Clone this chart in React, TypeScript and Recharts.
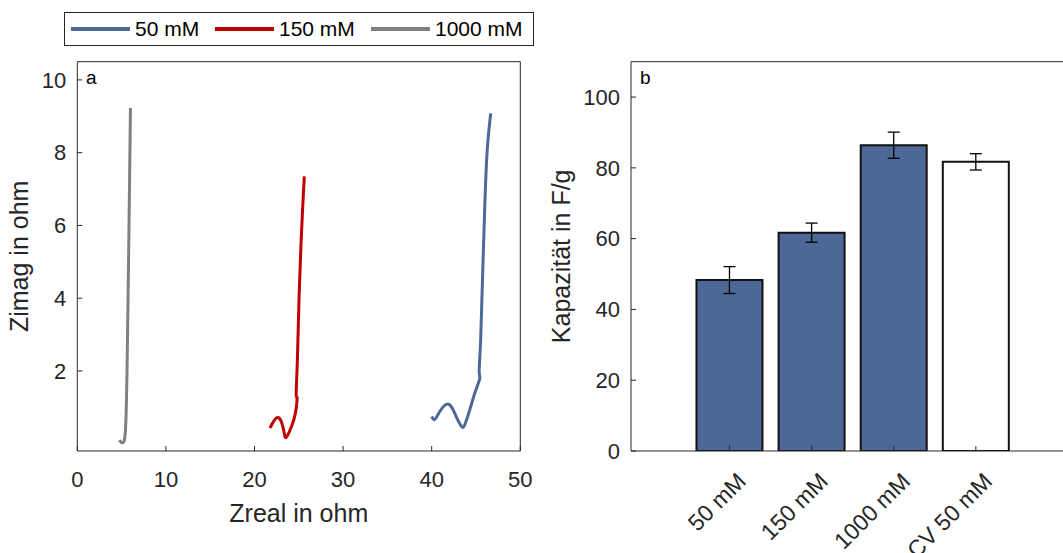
import React from "react";
import {
  LineChart,
  Line,
  BarChart,
  Bar,
  Cell,
  ErrorBar,
  XAxis,
  YAxis,
} from "recharts";

const FONT = "'Liberation Sans', Arial, Helvetica, sans-serif";
const INK = "#262626";
const BLUE = "#4D6797";
const RED = "#C00000";
const GRAY = "#808080";

// Nyquist curves, [Zreal, Zimag] in ohm
const nyquist50 = [
  [40.0, 0.75], [40.3, 0.66], [40.63, 0.77], [41.24, 1.0], [41.8, 1.09],
  [42.26, 1.0], [42.82, 0.72], [43.38, 0.47], [43.76, 0.54], [44.32, 0.95],
  [44.89, 1.41], [45.42, 1.78], [45.36, 1.98], [45.53, 2.88], [45.76, 4.72],
  [46.02, 6.74], [46.28, 8.12], [46.66, 9.08],
];
const nyquist150 = [
  [21.75, 0.43], [22.0, 0.55], [22.31, 0.67], [22.69, 0.72], [23.07, 0.58],
  [23.35, 0.3], [23.56, 0.17], [24.0, 0.37], [24.46, 0.68], [24.72, 1.0],
  [24.8, 1.28], [24.7, 1.35], [24.84, 2.3], [25.04, 4.1], [25.25, 5.5],
  [25.43, 6.45], [25.62, 7.35],
];
const nyquist1000 = [
  [4.75, 0.1], [4.95, 0.04], [5.15, 0.03], [5.33, 0.12], [5.45, 0.45],
  [5.52, 0.9], [5.6, 1.8], [5.7, 3.5], [5.8, 5.3], [5.9, 7.2], [6.0, 9.23],
];

const zrealTicks = [0, 10, 20, 30, 40, 50];
const zimagTicks = [2, 4, 6, 8, 10];

// Specific capacitance per electrolyte
const electrolytes = ["50 mM", "150 mM", "1000 mM", "CV 50 mM"];
const capacity = [48.3, 61.7, 86.4, 81.7];
const capacityErr = [3.8, 2.7, 3.7, 2.3];
const barFills = [BLUE, BLUE, BLUE, "#FFFFFF"];
const capacityTicks = [0, 20, 40, 60, 80, 100];

const legendItems = [
  { name: "50 mM", color: BLUE },
  { name: "150 mM", color: RED },
  { name: "1000 mM", color: GRAY },
];

const toPoints = (pts: number[][]) => pts.map(([zreal, zimag]) => ({ zreal, zimag }));

const barData = electrolytes.map((name, i) => ({
  pos: i + 1,
  name,
  capacity: capacity[i],
  err: capacityErr[i],
}));
const barPositions = barData.map((d) => d.pos);

const tickFont = { fill: INK, fontSize: 22 };

function SlantTick(props: any) {
  const { x, y, payload } = props;
  return (
    <g transform={`translate(${x + 12},${y})`}>
      <text
        transform="rotate(-45)"
        textAnchor="end"
        dy="0.35em"
        fill={INK}
        fontSize={23}
      >
        {electrolytes[payload.value - 1]}
      </text>
    </g>
  );
}

function Legend() {
  // line starts, relative to the box
  const lineX = [6, 150, 306];
  return (
    <div
      style={{
        position: "absolute",
        left: 64,
        top: 12,
        width: 468,
        height: 32,
        border: `1px solid ${INK}`,
        background: "#fff",
      }}
    >
      {legendItems.map((it, i) => (
        <div
          key={it.name}
          style={{
            position: "absolute",
            left: lineX[i],
            top: 0,
            height: 32,
            display: "flex",
            alignItems: "center",
            fontSize: 21,
            color: "#000",
            whiteSpace: "nowrap",
          }}
        >
          <span
            style={{
              display: "inline-block",
              width: 59,
              height: 3.5,
              background: it.color,
              marginRight: 5,
            }}
          />
          {it.name}
        </div>
      ))}
    </div>
  );
}

export default function App() {
  return (
    <div
      style={{
        position: "fixed",
        left: 0,
        top: 0,
        width: 1063,
        height: 553,
        overflow: "hidden",
        background: "#fff",
        fontFamily: FONT,
      }}
    >
      <div style={{ position: "absolute", left: 0, top: 0 }}>
        <LineChart
          width={540}
          height={553}
          margin={{ top: 60.7, right: 18.7, bottom: 42, left: 17.3 }}
        >
          <XAxis
            xAxisId="b"
            type="number"
            dataKey="zreal"
            domain={[0, 50]}
            ticks={zrealTicks}
            allowDataOverflow
            interval={0}
            height={60}
            tickSize={-5}
            tickMargin={25}
            stroke={INK}
            tick={tickFont}
            label={{ value: "Zreal in ohm", position: "insideBottom", offset: -10.7, fill: INK, fontSize: 25 }}
          />
          <XAxis
            xAxisId="t"
            orientation="top"
            type="number"
            dataKey="zreal"
            domain={[0, 50]}
            ticks={zrealTicks}
            allowDataOverflow
            interval={0}
            height={1}
            tickSize={-5}
            tick={false}
            stroke={INK}
          />
          <YAxis
            yAxisId="l"
            type="number"
            domain={[-0.2, 10.5]}
            ticks={zimagTicks}
            allowDataOverflow
            interval={0}
            width={60}
            tickSize={-5}
            tickMargin={16}
            stroke={INK}
            tick={tickFont}
            label={{
              value: "Zimag in ohm",
              angle: -90,
              position: "insideLeft",
              offset: 2.3,
              fill: INK,
              fontSize: 25,
              style: { textAnchor: "middle" },
            }}
          />
          <YAxis
            yAxisId="r"
            orientation="right"
            type="number"
            domain={[-0.2, 10.5]}
            ticks={zimagTicks}
            allowDataOverflow
            interval={0}
            width={1}
            tickSize={-5}
            tick={false}
            stroke={INK}
          />
          <Line xAxisId="b" yAxisId="l" data={toPoints(nyquist50)} dataKey="zimag" type="natural"
            stroke={BLUE} strokeWidth={3} dot={false} isAnimationActive={false} />
          <Line xAxisId="b" yAxisId="l" data={toPoints(nyquist150)} dataKey="zimag" type="natural"
            stroke={RED} strokeWidth={3} dot={false} isAnimationActive={false} />
          <Line xAxisId="b" yAxisId="l" data={toPoints(nyquist1000)} dataKey="zimag" type="natural"
            stroke={GRAY} strokeWidth={3} dot={false} isAnimationActive={false} />
        </LineChart>
      </div>

      <div style={{ position: "absolute", left: 520, top: 0 }}>
        <BarChart
          width={580}
          height={553}
          data={barData}
          margin={{ top: 60.7, right: 25.6, bottom: 42, left: 51 }}
        >
          <XAxis
            xAxisId="b"
            type="number"
            dataKey="pos"
            domain={[-0.2, 5.2]}
            ticks={barPositions}
            allowDataOverflow
            interval={0}
            height={60}
            tickSize={-5}
            tickMargin={31}
            stroke={INK}
            tick={<SlantTick />}
          />
          <XAxis
            xAxisId="t"
            orientation="top"
            type="number"
            dataKey="pos"
            domain={[-0.2, 5.2]}
            ticks={barPositions}
            allowDataOverflow
            interval={0}
            height={1}
            tickSize={-5}
            tick={false}
            stroke={INK}
          />
          <YAxis
            type="number"
            domain={[0, 110]}
            ticks={capacityTicks}
            allowDataOverflow
            interval={0}
            width={60}
            tickSize={-5}
            tickMargin={16}
            stroke={INK}
            tick={tickFont}
            label={{
              value: "Kapazität in F/g",
              angle: -90,
              position: "insideLeft",
              offset: -9.4,
              fill: INK,
              fontSize: 25,
              style: { textAnchor: "middle" },
            }}
          />
          <Bar
            xAxisId="b"
            dataKey="capacity"
            barSize={66}
            stroke="#111"
            strokeWidth={2}
            isAnimationActive={false}
          >
            {barData.map((d, i) => (
              <Cell key={d.name} fill={barFills[i]} />
            ))}
            <ErrorBar dataKey="err" width={6} stroke="#000" strokeWidth={1.3} direction="y" />
          </Bar>
        </BarChart>
      </div>

      <svg
        width={1063}
        height={553}
        style={{ position: "absolute", left: 0, top: 0, pointerEvents: "none" }}
      >
        <text x={86} y={83.5} fontSize={19} fill="#000">a</text>
        <text x={640} y={83.5} fontSize={19} fill="#000">b</text>
      </svg>

      <Legend />
    </div>
  );
}
